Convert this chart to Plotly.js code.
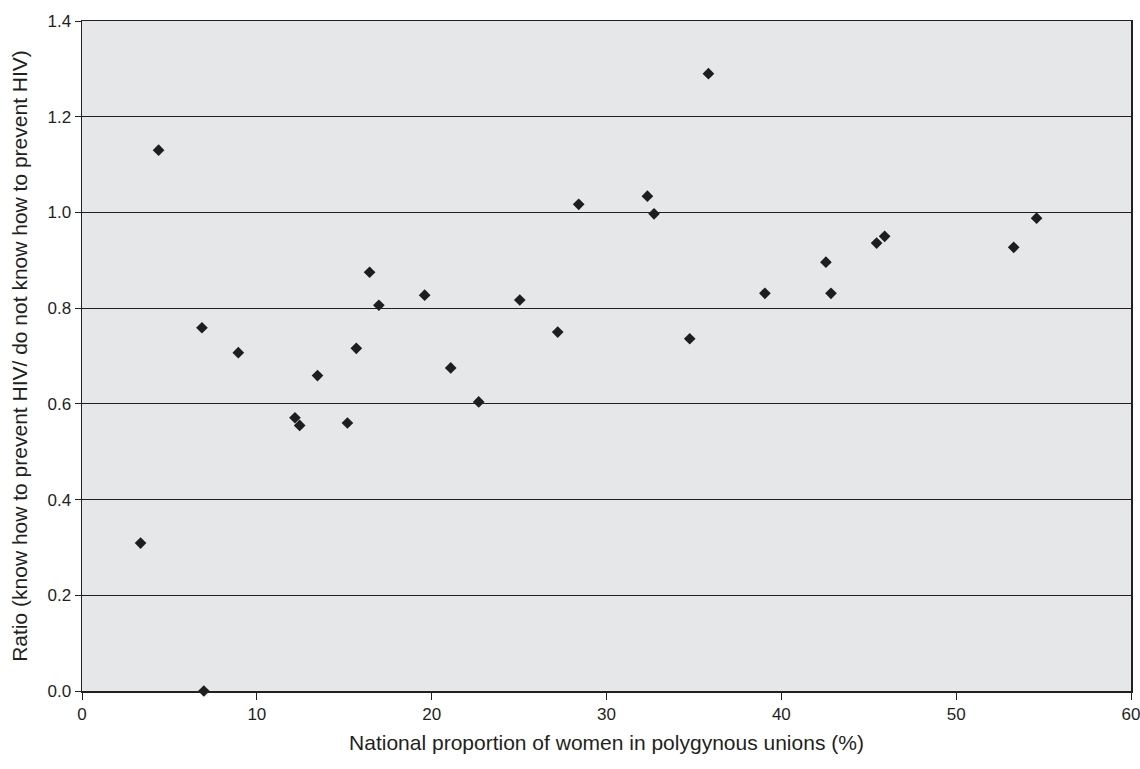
<!DOCTYPE html>
<html><head><meta charset="utf-8">
<script src="https://cdn.plot.ly/plotly-3.0.1.min.js"></script>
<style>html,body{margin:0;padding:0;background:#fff}#chart{width:1140px;height:769px}</style>
</head><body><div id="chart"></div>
<script>
const polygynyPct = [3.35,4.38,6.86,6.97,8.94,12.18,12.45,13.47,15.18,15.69,16.45,16.98,19.6,21.09,22.69,25.04,27.21,28.41,32.34,32.72,34.76,35.83,39.06,42.55,42.84,45.45,45.91,53.29,54.6];
const hivRatio = [0.309,1.130,0.759,0.0,0.707,0.571,0.555,0.659,0.560,0.716,0.875,0.806,0.827,0.675,0.604,0.817,0.750,1.017,1.034,0.997,0.736,1.290,0.831,0.896,0.831,0.936,0.950,0.927,0.988];
const xTicks = [0,10,20,30,40,50,60];
const yTicks = [0,0.2,0.4,0.6,0.8,1.0,1.2,1.4];

const font = "Liberation Sans, Arial, Helvetica, sans-serif";
Plotly.newPlot('chart', [{
  x: polygynyPct, y: hivRatio, type: 'scatter', mode: 'markers',
  marker: {symbol: 'diamond', size: 9, color: '#1e1e1e'},
  cliponaxis: false, hoverinfo: 'x+y'
}], {
  width: 1140, height: 769,
  margin: {l: 82, r: 9, t: 21, b: 78},
  paper_bgcolor: '#ffffff', plot_bgcolor: '#e6e7e8',
  showlegend: false,
  font: {family: font, color: '#231f20', size: 17},
  xaxis: {
    range: [0, 60], tickvals: xTicks, ticktext: xTicks.map(String),
    showgrid: false, zeroline: false,
    showline: true, linecolor: '#231f20', linewidth: 1.5, mirror: true,
    ticks: 'outside', ticklen: 7, tickcolor: '#231f20', tickwidth: 1,
    tickfont: {size: 17}, fixedrange: true, ticklabeloverflow: 'allow',
    title: {text: 'National proportion of women in polygynous unions (%)', font: {size: 21}, standoff: 12}
  },
  yaxis: {
    range: [0, 1.4], tickvals: yTicks, ticktext: yTicks.map(v => v.toFixed(1)),
    showgrid: true, gridcolor: '#231f20', gridwidth: 1, zeroline: false,
    showline: true, linecolor: '#231f20', linewidth: 1.5, mirror: true,
    ticks: 'outside', ticklen: 6, tickcolor: '#231f20', tickwidth: 1,
    tickfont: {size: 17}, fixedrange: true, ticklabeloverflow: 'allow',
    title: {text: 'Ratio (know how to prevent HIV/ do not know how to prevent HIV)', font: {size: 21}, standoff: 14}
  }
}, {displayModeBar: false, staticPlot: true});
</script></body></html>
